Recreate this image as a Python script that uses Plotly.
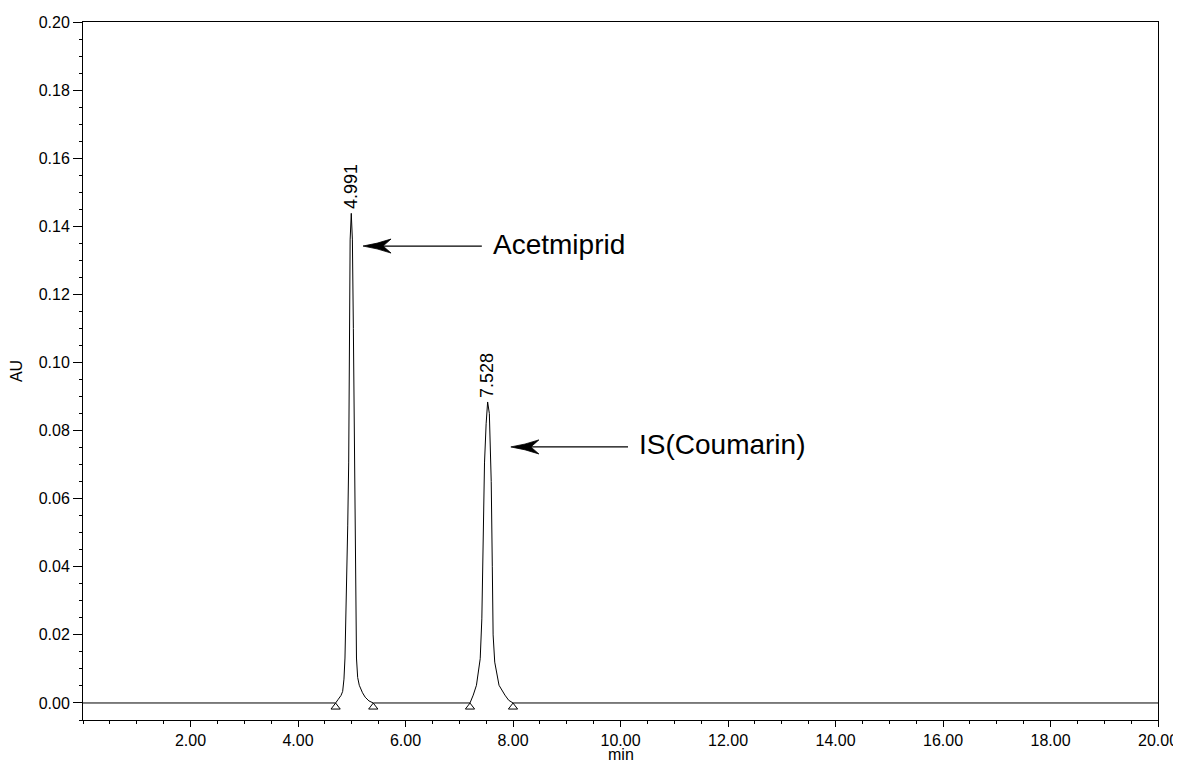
import plotly.graph_objects as go

# ---- data ----
time_min = [0.00, 4.70, 4.75, 4.80, 4.831, 4.855, 4.874, 4.90, 4.925, 4.943, 4.958, 4.970, 4.991,
            5.012, 5.030, 5.050, 5.070, 5.088, 5.11, 5.14, 5.20, 5.25, 5.32, 5.40,
            7.20, 7.26, 7.32, 7.36, 7.39, 7.42, 7.44, 7.47, 7.50, 7.528,
            7.56, 7.575, 7.595, 7.615, 7.63, 7.66, 7.70, 7.74, 7.85, 7.92, 8.00, 20.00]
absorbance = [0.0, 0.0, 0.0011, 0.0022, 0.0034, 0.0070, 0.0132, 0.030, 0.052, 0.0705, 0.110, 0.136, 0.1438,
              0.136, 0.110, 0.0705, 0.035, 0.0132, 0.0075, 0.0052, 0.0030, 0.0017, 0.0006, 0.0,
              0.0, 0.0023, 0.0052, 0.0090, 0.0130, 0.0247, 0.0476, 0.0705, 0.0820, 0.0884,
              0.0850, 0.0780, 0.0650, 0.0400, 0.0200, 0.0120, 0.0080, 0.0052, 0.0023, 0.0008, 0.0, 0.0]

peak_rt = [4.991, 7.528]
peak_height = [0.1438, 0.0884]
peak_labels = ["4.991", "7.528"]
baseline_marks_t = [4.70, 5.40, 7.20, 8.00]
baseline_marks_y = [-0.0012, -0.0012, -0.0012, -0.0012]
compound_names = ["Acetmiprid", "IS(Coumarin)"]
arrow_tip = [(5.21, 0.1342), (7.96, 0.0752)]
arrow_tail = [(7.42, 0.1342), (10.14, 0.0752)]

x_ticks = [2, 4, 6, 8, 10, 12, 14, 16, 18, 20]
x_ticktext = ["%.2f" % v for v in x_ticks]
y_ticks = [0.00, 0.02, 0.04, 0.06, 0.08, 0.10, 0.12, 0.14, 0.16, 0.18, 0.20]
y_ticktext = ["%.2f" % v for v in y_ticks]

X_RANGE = [0, 20]
Y_RANGE = [-0.005, 0.20]
FONT = "Liberation Sans, Arial, sans-serif"

# figure geometry (page has an 8px body margin, so the figure starts at 8,8)
W, H = 1173, 755
ML, MR, MT, MB = 75, 23, 14, 43
plot_w = W - ML - MR
plot_h = H - MT - MB
dx = (X_RANGE[1] - X_RANGE[0]) / plot_w   # minutes per pixel
dy = (Y_RANGE[1] - Y_RANGE[0]) / plot_h   # AU per pixel

fig = go.Figure()
fig.add_trace(go.Scatter(x=time_min, y=absorbance, mode="lines",
                         line=dict(color="black", width=1), hoverinfo="x+y", showlegend=False))
fig.add_trace(go.Scatter(x=baseline_marks_t, y=baseline_marks_y, mode="markers",
                         marker=dict(symbol="triangle-up-open", size=8, color="black",
                                     line=dict(width=1, color="black")),
                         showlegend=False, hoverinfo="skip"))

annotations = []
shapes = []
for rt, h, lab in zip(peak_rt, peak_height, peak_labels):
    annotations.append(dict(x=rt, y=h, xref="x", yref="y", text=lab, showarrow=False,
                            textangle=-90, xanchor="center", yanchor="bottom", yshift=2,
                            font=dict(family=FONT, size=18, color="black")))
for name, tip, tail in zip(compound_names, arrow_tip, arrow_tail):
    tx, ty = tip
    # shaft
    shapes.append(dict(type="line", xref="x", yref="y", x0=tx + 18 * dx, y0=ty, x1=tail[0], y1=tail[1],
                       line=dict(color="black", width=1.3)))
    # barbed arrow head
    path = ("M {:.5f},{:.6f} Q {:.5f},{:.6f} {:.5f},{:.6f} L {:.5f},{:.6f} L {:.5f},{:.6f} "
            "Q {:.5f},{:.6f} {:.5f},{:.6f} Z").format(
        tx, ty,
        tx + 14 * dx, ty + 2.2 * dy, tx + 28 * dx, ty + 7 * dy,
        tx + 20 * dx, ty,
        tx + 28 * dx, ty - 7 * dy,
        tx + 14 * dx, ty - 2.2 * dy, tx, ty)
    shapes.append(dict(type="path", xref="x", yref="y", path=path,
                       fillcolor="black", line=dict(color="black", width=0.8)))
    annotations.append(dict(x=tail[0], y=tail[1], xref="x", yref="y", text=name, showarrow=False,
                            xanchor="left", yanchor="middle", xshift=9, yshift=2,
                            font=dict(family=FONT, size=28, color="black")))

# x-axis title placed just under the tick labels
annotations.append(dict(x=0.5, y=0, xref="paper", yref="paper", text="min", showarrow=False,
                        xanchor="center", yanchor="middle", yshift=-34, borderpad=0,
                        font=dict(family=FONT, size=16, color="black")))

fig.update_layout(
    width=W, height=H,
    margin=dict(l=ML, r=MR, t=MT, b=MB),
    plot_bgcolor="white", paper_bgcolor="white",
    font=dict(family=FONT, size=16, color="black"),
    annotations=annotations,
    shapes=shapes,
    xaxis=dict(range=X_RANGE, tickmode="array", tickvals=x_ticks, ticktext=x_ticktext,
               automargin=False,
               ticks="outside", ticklen=6, tickwidth=1, tickcolor="black",
               showline=True, linecolor="black", linewidth=1, mirror=True,
               showgrid=False, zeroline=False,
               minor=dict(tickmode="linear", tick0=0, dtick=0.5, ticks="outside", ticklen=3,
                          tickcolor="black", tickwidth=1, showgrid=False),
               tickfont=dict(size=16)),
    yaxis=dict(range=Y_RANGE, tickmode="array", tickvals=y_ticks, ticktext=y_ticktext,
               automargin=False,
               ticks="outside", ticklen=9, tickwidth=1, tickcolor="black",
               showline=True, linecolor="black", linewidth=1, mirror=True,
               showgrid=False, zeroline=False,
               minor=dict(tickmode="linear", tick0=0, dtick=0.005, ticks="outside", ticklen=3,
                          tickcolor="black", tickwidth=1, showgrid=False),
               title=dict(text="AU", standoff=14, font=dict(size=16)),
               tickfont=dict(size=16)),
)

fig.write_html("out.html")
